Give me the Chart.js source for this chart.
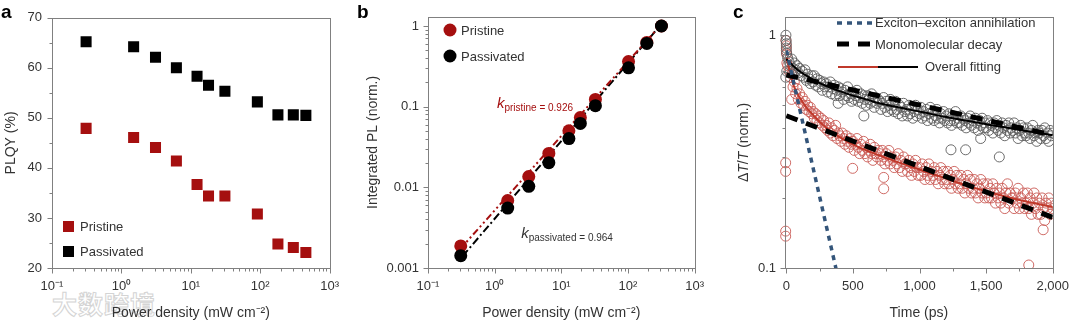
<!DOCTYPE html>
<html>
<head>
<meta charset="utf-8">
<title>PLQY, integrated PL and exciton decay</title>
<script src="https://cdn.jsdelivr.net/npm/chart.js@4.4.1/dist/chart.umd.min.js"></script>
<style>
  html, body { margin: 0; padding: 0; background: #fff; }
  body { width: 1080px; height: 321px; position: relative; overflow: hidden; }
  .panel { position: absolute; top: 0; height: 321px; }
  #panelA { left: 0; width: 350px; }
  #panelB { left: 350px; width: 365px; }
  #panelC { left: 715px; width: 365px; }
  .watermark { position: absolute; left: 52px; top: 285px; font: bold 25px "Noto Sans CJK SC", sans-serif;
    color: rgba(255,255,255,0.7); -webkit-text-stroke: 1px #d4d4d4; letter-spacing: 1px; pointer-events: none; }
</style>
</head>
<body>
<div class="watermark">大数跨境</div>
<div class="panel" id="panelA"><canvas id="chartA"></canvas></div>
<div class="panel" id="panelB"><canvas id="chartB"></canvas></div>
<div class="panel" id="panelC"><canvas id="chartC"></canvas></div>
<script>
// ---- panel a: PLQY vs power density
const powerA = [0.31, 1.5, 3.1, 6.2, 12.3, 18, 31, 91, 180, 300, 455];
const plqyPristine = [47.9, 46.1, 44.1, 41.4, 36.7, 34.4, 34.4, 30.8, 24.8, 24.1, 23.1];
const plqyPassivated = [65.2, 64.2, 62.1, 60.0, 58.3, 56.5, 55.3, 53.2, 50.6, 50.6, 50.5];
const plqyTicks = [20, 25, 30, 35, 40, 45, 50, 55, 60, 65, 70];

// ---- panel b: integrated PL vs power density
const powerB = [0.31, 1.57, 3.25, 6.5, 13, 19.3, 32.5, 102, 192, 318];
const plPristine = [0.00188, 0.00687, 0.0136, 0.0263, 0.0503, 0.0733, 0.123, 0.362, 0.625, 1.0];
const plPassivated = [0.00142, 0.00553, 0.0103, 0.0202, 0.0402, 0.062, 0.103, 0.303, 0.608, 1.0];
const fitPristineX = [0.3, 320];
const fitPristineY = [0.0017, 1.06];
const fitPassivatedX = [0.33, 320];
const fitPassivatedY = [0.0014, 1.06];

// ---- panel c: transient decay, one row = 100 ps (10 ps apart)
const decayStart = 0, decayStep = 10;
const decayPassivated = [
  0.92, 0.80, 0.77, 0.74, 0.79, 0.72, 0.76, 0.71, 0.74, 0.69,
  0.72, 0.67, 0.70, 0.66, 0.71, 0.64, 0.68, 0.65, 0.62, 0.67,
  0.63, 0.67, 0.61, 0.65, 0.60, 0.64, 0.62, 0.58, 0.63, 0.60,
  0.62, 0.57, 0.60, 0.63, 0.56, 0.59, 0.61, 0.55, 0.58, 0.60,
  0.55, 0.59, 0.57, 0.53, 0.58, 0.55, 0.60, 0.54, 0.56, 0.52,
  0.57, 0.53, 0.55, 0.58, 0.52, 0.54, 0.56, 0.51, 0.55, 0.53,
  0.50, 0.55, 0.53, 0.51, 0.56, 0.52, 0.49, 0.54, 0.51, 0.53,
  0.52, 0.48, 0.51, 0.54, 0.49, 0.52, 0.47, 0.50, 0.53, 0.48,
  0.50, 0.47, 0.52, 0.48, 0.46, 0.50, 0.49, 0.45, 0.51, 0.47,
  0.48, 0.45, 0.50, 0.46, 0.49, 0.44, 0.47, 0.50, 0.45, 0.48,
  0.46, 0.49, 0.44, 0.47, 0.45, 0.48, 0.43, 0.46, 0.49, 0.44,
  0.47, 0.43, 0.45, 0.48, 0.44, 0.42, 0.46, 0.44, 0.47, 0.43,
  0.45, 0.42, 0.46, 0.43, 0.41, 0.45, 0.43, 0.47, 0.42, 0.44,
  0.42, 0.45, 0.41, 0.44, 0.43, 0.40, 0.44, 0.42, 0.45, 0.41,
  0.43, 0.40, 0.44, 0.42, 0.39, 0.43, 0.41, 0.44, 0.40, 0.42,
  0.40, 0.43, 0.39, 0.42, 0.41, 0.38, 0.42, 0.40, 0.43, 0.39,
  0.41, 0.38, 0.42, 0.40, 0.37, 0.41, 0.39, 0.42, 0.38, 0.40,
  0.39, 0.42, 0.38, 0.40, 0.36, 0.39, 0.41, 0.37, 0.40, 0.38,
  0.37, 0.40, 0.38, 0.36, 0.39, 0.41, 0.37, 0.38, 0.35, 0.39,
  0.38, 0.36, 0.39, 0.37, 0.40, 0.36, 0.38, 0.35, 0.39, 0.37,
  0.38
];
const decayPristine = [
  0.86, 0.74, 0.70, 0.66, 0.68, 0.60, 0.63, 0.56, 0.59, 0.53,
  0.56, 0.51, 0.54, 0.50, 0.52, 0.48, 0.50, 0.47, 0.49, 0.46,
  0.47, 0.44, 0.46, 0.43, 0.45, 0.42, 0.44, 0.41, 0.43, 0.40,
  0.41, 0.39, 0.42, 0.38, 0.40, 0.37, 0.39, 0.41, 0.36, 0.38,
  0.37, 0.35, 0.38, 0.36, 0.34, 0.37, 0.35, 0.33, 0.36, 0.34,
  0.35, 0.32, 0.34, 0.36, 0.33, 0.31, 0.34, 0.32, 0.35, 0.31,
  0.33, 0.30, 0.32, 0.34, 0.31, 0.29, 0.33, 0.31, 0.30, 0.32,
  0.31, 0.29, 0.32, 0.30, 0.28, 0.31, 0.29, 0.32, 0.28, 0.30,
  0.29, 0.27, 0.30, 0.28, 0.31, 0.27, 0.29, 0.26, 0.30, 0.28,
  0.28, 0.26, 0.29, 0.27, 0.25, 0.28, 0.26, 0.29, 0.27, 0.25,
  0.27, 0.25, 0.28, 0.26, 0.24, 0.27, 0.25, 0.28, 0.24, 0.26,
  0.25, 0.27, 0.24, 0.26, 0.23, 0.25, 0.27, 0.24, 0.26, 0.23,
  0.24, 0.26, 0.23, 0.25, 0.22, 0.24, 0.26, 0.23, 0.25, 0.22,
  0.23, 0.25, 0.22, 0.24, 0.21, 0.23, 0.25, 0.22, 0.24, 0.21,
  0.22, 0.24, 0.21, 0.23, 0.20, 0.22, 0.24, 0.21, 0.23, 0.20,
  0.21, 0.23, 0.20, 0.22, 0.20, 0.23, 0.21, 0.19, 0.22, 0.20,
  0.21, 0.19, 0.22, 0.20, 0.18, 0.21, 0.23, 0.19, 0.21, 0.20,
  0.20, 0.18, 0.21, 0.19, 0.22, 0.18, 0.20, 0.19, 0.21, 0.18,
  0.19, 0.21, 0.18, 0.20, 0.17, 0.19, 0.21, 0.18, 0.20, 0.17,
  0.19, 0.17, 0.20, 0.18, 0.16, 0.19, 0.18, 0.20, 0.17, 0.19,
  0.18
];
// scattered points off the regular grid (t = 0 column and outliers)
const extraPassivatedT = [-3, -2, 0, 2, 3, -4, 389, 582, 1236, 1346, 1459, 1599];
const extraPassivatedY = [1.0, 0.95, 0.88, 0.84, 0.70, 0.66, 0.51, 0.45, 0.322, 0.322, 0.36, 0.30];
const extraPristineT = [-3, 0, 2, 4, -5, -5, -5, -5, 498, 731, 731, 1820, 1928, 40];
const extraPristineY = [0.95, 0.90, 0.83, 0.76, 0.283, 0.26, 0.144, 0.137, 0.268, 0.245, 0.219, 0.103, 0.146, 0.53];

const fitPassT = [0, 50, 100, 200, 300, 400, 500, 600, 700, 800, 1000, 1200, 1400, 1600, 1800, 2000];
const fitPassY = [0.79, 0.74, 0.70, 0.645, 0.605, 0.575, 0.55, 0.53, 0.51, 0.495, 0.47, 0.445, 0.425, 0.405, 0.388, 0.372];
const fitPrisT = [0, 10, 20, 30, 40, 50, 70, 100, 150, 200, 300, 400, 500, 600, 800, 1000, 1200, 1400, 1600, 1800, 2000];
const fitPrisY = [0.80, 0.76, 0.72, 0.68, 0.65, 0.62, 0.58, 0.54, 0.49, 0.455, 0.40, 0.365, 0.34, 0.32, 0.29, 0.265, 0.242, 0.222, 0.206, 0.193, 0.183];
const monoPassT = [0, 2000];
const monoPassY = [0.675, 0.372];
const monoPrisT = [0, 2000];
const monoPrisY = [0.451, 0.165];
const annihilT = [0, 390];
const annihilY = [0.86, 0.09];
const timeTicks = [0, 250, 500, 750, 1000, 1250, 1500, 1750, 2000];

const FONT = '"Liberation Sans", Arial, sans-serif';
const TEXT = '#333';
const AXIS = '#808080';
const RED = '#a50f0f';
const BLUE = '#34557a';
const font = (size, style) => (style || '') + ' ' + size + 'px ' + FONT;

const SUP = { '-': '⁻', '0': '⁰', '1': '¹', '2': '²', '3': '³' };
function isDecade(v) {
  const e = Math.log10(v);
  return Math.abs(e - Math.round(e)) < 1e-6;
}
function powLabel(v) {
  if (!isDecade(v)) return '';
  return '10' + String(Math.round(Math.log10(v))).split('').map(c => SUP[c]).join('');
}
function logTicks(e0, e1) {
  const out = [];
  for (let e = e0; e < e1; e++) {
    for (let m = 1; m < 10; m++) out.push(+(m * Math.pow(10, e)).toPrecision(6));
  }
  out.push(Math.pow(10, e1));
  return out;
}
function logTickLen(v) {
  const e = Math.floor(Math.log10(v) + 1e-9);
  const m = v / Math.pow(10, e);
  if (Math.abs(m - Math.round(m)) > 1e-6) return 0;
  return Math.round(m) === 1 ? 5 : 3;
}
const pts = (xs, ys) => xs.map((x, i) => ({ x, y: ys[i] }));
const gridPts = (vals) => vals.map((y, i) => ({ x: decayStart + i * decayStep, y }));

function scaleOpts(type, min, max, ticks, label, size, padding) {
  return {
    type, min, max,
    grid: { display: false, drawTicks: false },
    border: { display: false },
    afterBuildTicks: s => { s.ticks = ticks.map(v => ({ value: v })); },
    afterFit: s => { if (s.isHorizontal()) s.height = size; else s.width = size; },
    ticks: {
      autoSkip: false, maxRotation: 0, minRotation: 0, padding,
      color: TEXT, font: { family: FONT, size: 13 },
      callback: v => label(v)
    }
  };
}

function baseOptions(scales, top, right) {
  return {
    responsive: true,
    maintainAspectRatio: false,
    animation: false,
    devicePixelRatio: 1,
    events: [],
    layout: { padding: { left: 0, top, right, bottom: 0 } },
    plugins: { legend: { display: false }, tooltip: { enabled: false } },
    scales
  };
}

// text made of pieces with their own fonts (italic, subscripts)
function drawRich(ctx, parts, x, y, vertical, align) {
  ctx.save();
  ctx.translate(x, y);
  if (vertical) ctx.rotate(-Math.PI / 2);
  let w = 0;
  const widths = parts.map(p => { ctx.font = p.font; const m = ctx.measureText(p.text).width; w += m; return m; });
  let cx = align === 'left' ? 0 : -w / 2;
  ctx.textAlign = 'left';
  ctx.textBaseline = 'alphabetic';
  parts.forEach((p, i) => {
    ctx.font = p.font;
    ctx.fillStyle = p.color || TEXT;
    ctx.fillText(p.text, cx, 5 + (p.dy || 0));
    cx += widths[i];
  });
  ctx.restore();
}

function makeDeco(cfg) {
  return {
    id: 'deco' + cfg.letter,
    afterDraw(chart) {
      const ctx = chart.ctx, a = chart.chartArea;
      const xs = chart.scales.x, ys = chart.scales.y;
      ctx.save();
      ctx.strokeStyle = AXIS;
      ctx.lineWidth = 1;
      const L = Math.round(a.left) + 0.5, R = Math.round(a.right) + 0.5;
      const T = Math.round(a.top) + 0.5, B = Math.round(a.bottom) + 0.5;
      ctx.strokeRect(L, T, R - L, B - T);
      ctx.beginPath();
      xs.ticks.forEach(t => {
        const len = cfg.tickX(t.value);
        if (!len) return;
        const p = Math.round(xs.getPixelForValue(t.value)) + 0.5;
        ctx.moveTo(p, B); ctx.lineTo(p, B + len);
      });
      ys.ticks.forEach(t => {
        const len = cfg.tickY(t.value);
        if (!len) return;
        const p = Math.round(ys.getPixelForValue(t.value)) + 0.5;
        ctx.moveTo(L, p); ctx.lineTo(L - len, p);
      });
      ctx.stroke();

      ctx.fillStyle = '#000';
      ctx.font = font(19, 'bold');
      ctx.textAlign = 'left';
      ctx.textBaseline = 'alphabetic';
      ctx.fillText(cfg.letter, cfg.letterX, 18);

      drawRich(ctx, cfg.xTitle, (a.left + a.right) / 2, 312, false);
      drawRich(ctx, cfg.yTitle, cfg.yTitleX, (a.top + a.bottom) / 2, true);
      if (cfg.extra) cfg.extra(ctx, chart);
      ctx.restore();
    }
  };
}

const powerTitle = [{ text: 'Power density (mW cm⁻²)', font: font(14) }];

// ---------- a
new Chart(document.getElementById('chartA'), {
  type: 'scatter',
  data: {
    datasets: [
      { data: pts(powerA, plqyPristine), pointStyle: 'rect', pointRadius: 7.8, backgroundColor: RED, borderWidth: 0 },
      { data: pts(powerA, plqyPassivated), pointStyle: 'rect', pointRadius: 7.8, backgroundColor: '#000', borderWidth: 0 }
    ]
  },
  options: baseOptions({
    x: scaleOpts('logarithmic', 0.1, 1000, logTicks(-1, 3), powLabel, 53, 11),
    y: scaleOpts('linear', 20, 70, plqyTicks, v => (v % 10 === 0 ? String(v) : ''), 52, 10)
  }, 10, 18),
  plugins: [makeDeco({
    letter: 'a', letterX: 1,
    tickX: logTickLen, tickY: v => (v % 10 === 0 ? 5 : 3),
    xTitle: powerTitle,
    yTitle: [{ text: 'PLQY (%)', font: font(14) }], yTitleX: 10,
    extra(ctx) {
      ctx.fillStyle = RED; ctx.fillRect(63, 221, 11, 11);
      ctx.fillStyle = '#000'; ctx.fillRect(63, 246, 11, 11);
      ctx.fillStyle = TEXT; ctx.font = font(13); ctx.textBaseline = 'middle';
      ctx.fillText('Pristine', 80, 227);
      ctx.fillText('Passivated', 80, 252);
    }
  })]
});

// ---------- b
new Chart(document.getElementById('chartB'), {
  type: 'scatter',
  data: {
    datasets: [
      { data: pts(fitPassivatedX, fitPassivatedY), showLine: true, pointRadius: 0, borderColor: '#000', borderWidth: 2, borderDash: [8, 3, 2, 3], order: 5 },
      { data: pts(fitPristineX, fitPristineY), showLine: true, pointRadius: 0, borderColor: RED, borderWidth: 2, borderDash: [7, 3, 2, 3, 2, 3], order: 4 },
      { data: pts(powerB, plPristine), pointRadius: 6.5, backgroundColor: RED, borderWidth: 0, order: 2 },
      { data: pts(powerB, plPassivated), pointRadius: 6.5, backgroundColor: '#000', borderWidth: 0, order: 1 }
    ]
  },
  options: baseOptions({
    x: scaleOpts('logarithmic', 0.1, 1000, logTicks(-1, 3), powLabel, 53, 11),
    y: scaleOpts('logarithmic', 0.001, 1.3, logTicks(-3, 0),
      v => (isDecade(v) ? String(+v.toPrecision(3)) : ''), 78, 9)
  }, 14, 17),
  plugins: [makeDeco({
    letter: 'b', letterX: 7,
    tickX: logTickLen, tickY: logTickLen,
    xTitle: powerTitle,
    yTitle: [{ text: 'Integrated PL (norm.)', font: font(14) }], yTitleX: 22,
    extra(ctx, chart) {
      ctx.fillStyle = RED;
      ctx.beginPath(); ctx.arc(100, 30, 6.5, 0, Math.PI * 2); ctx.fill();
      ctx.fillStyle = '#000';
      ctx.beginPath(); ctx.arc(100, 56, 6.5, 0, Math.PI * 2); ctx.fill();
      ctx.fillStyle = TEXT; ctx.font = font(13); ctx.textBaseline = 'middle';
      ctx.fillText('Pristine', 111, 31);
      ctx.fillText('Passivated', 111, 57);
      const xs = chart.scales.x, ys = chart.scales.y;
      drawRich(ctx, [
        { text: 'k', font: font(15, 'italic'), color: RED },
        { text: 'pristine = 0.926', font: font(10), color: RED, dy: 3 }
      ], xs.getPixelForValue(1.08), ys.getPixelForValue(0.095) - 5, false, 'left');
      drawRich(ctx, [
        { text: 'k', font: font(15, 'italic') },
        { text: 'passivated = 0.964', font: font(10), dy: 3 }
      ], xs.getPixelForValue(2.5), ys.getPixelForValue(0.00236) - 5, false, 'left');
    }
  })]
});

// ---------- c
const circle = (data, color) => ({ data, pointRadius: 5, backgroundColor: 'rgba(0,0,0,0)', borderColor: color, borderWidth: 0.9, clip: { left: 6, top: 6, right: 1, bottom: 1 }, order: 10 });
new Chart(document.getElementById('chartC'), {
  type: 'scatter',
  data: {
    datasets: [
      circle(gridPts(decayPassivated).concat(pts(extraPassivatedT, extraPassivatedY)), '#5c5c5c'),
      circle(gridPts(decayPristine).concat(pts(extraPristineT, extraPristineY)), '#c95a55'),
      { data: pts(fitPassT, fitPassY), showLine: true, pointRadius: 0, borderColor: '#000', borderWidth: 2, cubicInterpolationMode: 'monotone', order: 6 },
      { data: pts(fitPrisT, fitPrisY), showLine: true, pointRadius: 0, borderColor: '#c0392b', borderWidth: 2, cubicInterpolationMode: 'monotone', order: 6 },
      { data: pts(monoPassT, monoPassY), showLine: true, pointRadius: 0, borderColor: '#000', borderWidth: 5, borderDash: [12, 9], order: 3 },
      { data: pts(monoPrisT, monoPrisY), showLine: true, pointRadius: 0, borderColor: '#000', borderWidth: 5, borderDash: [12, 9], order: 3 },
      { data: pts(annihilT, annihilY), showLine: true, pointRadius: 0, borderColor: BLUE, borderWidth: 3.5, borderDash: [5, 5], order: 1 }
    ]
  },
  options: baseOptions({
    x: scaleOpts('linear', -10, 2000, timeTicks, v => (v % 500 === 0 ? v.toLocaleString('en-US') : ''), 53, 11),
    y: scaleOpts('logarithmic', 0.1, 1.2, logTicks(-1, 0), v => (isDecade(v) ? String(+v.toPrecision(3)) : ''), 70, 9)
  }, 10, 17),
  plugins: [makeDeco({
    letter: 'c', letterX: 18,
    tickX: v => (v % 500 === 0 ? 5 : 3), tickY: logTickLen,
    xTitle: [{ text: 'Time (ps)', font: font(14) }],
    yTitle: [
      { text: 'Δ', font: font(14) }, { text: 'T', font: font(14, 'italic') },
      { text: '/', font: font(14) }, { text: 'T', font: font(14, 'italic') },
      { text: ' (norm.)', font: font(14) }
    ], yTitleX: 28,
    extra(ctx) {
      ctx.lineCap = 'butt';
      ctx.strokeStyle = BLUE; ctx.lineWidth = 3.5; ctx.setLineDash([5, 5]);
      ctx.beginPath(); ctx.moveTo(122, 23); ctx.lineTo(157, 23); ctx.stroke();
      ctx.strokeStyle = '#000'; ctx.lineWidth = 5; ctx.setLineDash([12, 9]);
      ctx.beginPath(); ctx.moveTo(122, 44); ctx.lineTo(155, 44); ctx.stroke();
      ctx.setLineDash([]); ctx.lineWidth = 2;
      ctx.strokeStyle = '#c0392b';
      ctx.beginPath(); ctx.moveTo(123, 67); ctx.lineTo(163, 67); ctx.stroke();
      ctx.strokeStyle = '#000';
      ctx.beginPath(); ctx.moveTo(163, 67); ctx.lineTo(203, 67); ctx.stroke();
      ctx.fillStyle = TEXT; ctx.font = font(13); ctx.textBaseline = 'middle';
      ctx.fillText('Exciton–exciton annihilation', 160, 23);
      ctx.fillText('Monomolecular decay', 160, 45);
      ctx.fillText('Overall fitting', 210, 67);
    }
  })]
});
</script>
</body>
</html>
